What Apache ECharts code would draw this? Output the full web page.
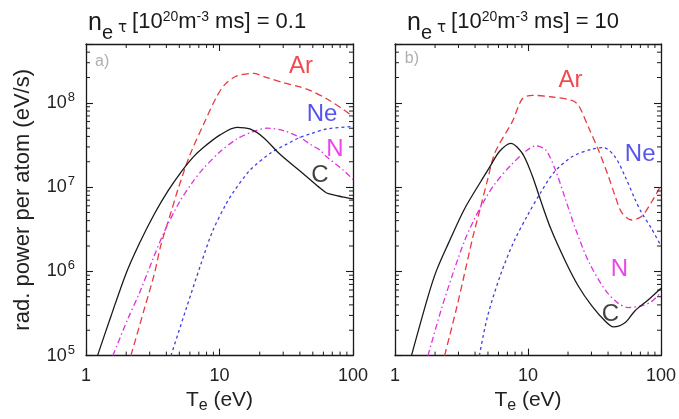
<!DOCTYPE html>
<html>
<head>
<meta charset="utf-8">
<script src="https://cdn.jsdelivr.net/npm/echarts@6/dist/echarts.min.js"></script>
<style>
  html, body { margin: 0; padding: 0; background: #fff; }
  #chart { width: 679px; height: 419px; }
</style>
</head>
<body>
<div id="chart"></div>
<script>
// Radiated power per atom versus electron temperature for C, N, Ne, Ar
// at two values of n_e * tau (left: 0.1, right: 10).

const panelValues = ['0.1', '10'];
const panelTags = ['a)', 'b)'];
const xTickLabels = ['1', '10', '100'];
const yTickExponents = [5, 6, 7, 8];

// ---- n_e tau = 0.1  [T_e (eV), P (eV/s)] ----
const carbonA = [
  [1.22, 1.0e5], [1.54, 2.95e5], [1.99, 9.33e5], [2.51, 2.14e6], [3.25, 4.79e6],
  [4.09, 8.91e6], [5.15, 1.51e7], [6.3, 2.24e7], [7.57, 2.95e7], [10.1, 4.17e7],
  [13.5, 5.13e7], [16.9, 4.90e7], [21.3, 3.89e7], [28.4, 2.45e7], [40.1, 1.55e7],
  [47.6, 1.23e7], [56.6, 9.77e6], [63.5, 8.51e6], [75.5, 7.94e6], [84.8, 7.59e6],
  [100, 7.24e6]
];
const nitrogenA = [
  [1.59, 1.0e5], [2.05, 2.69e5], [2.51, 5.50e5], [3.16, 1.38e6], [3.86, 2.95e6],
  [5.0, 6.61e6], [6.3, 1.15e7], [7.57, 1.66e7], [10.1, 2.63e7], [13.5, 3.72e7],
  [17.9, 4.57e7], [22.6, 5.01e7], [30.1, 4.68e7], [40.1, 3.89e7], [47.6, 3.24e7],
  [56.6, 2.75e7], [63.5, 2.29e7], [84.8, 1.585e7], [100, 1.23e7]
];
const neonA = [
  [4.33, 1.0e5], [5.61, 3.55e5], [7.27, 1.23e6], [8.89, 3.02e6], [11.2, 6.31e6],
  [12.7, 8.71e6], [16.9, 1.585e7], [23.9, 2.51e7], [31.9, 3.24e7], [40.1, 3.89e7],
  [47.6, 4.27e7], [63.5, 4.90e7], [100, 5.25e7]
];
const argonA = [
  [2.17, 1.0e5], [2.73, 3.55e5], [3.25, 9.33e5], [3.65, 2.09e6], [4.33, 5.01e6],
  [4.9, 9.55e6], [6.0, 2.40e7], [7.57, 5.50e7], [9.5, 1.175e8], [11.0, 1.66e8],
  [13.5, 2.09e8], [17.9, 2.24e8], [22.6, 2.0e8], [30.1, 1.74e8], [40.1, 1.55e8],
  [47.6, 1.41e8], [63.5, 1.12e8], [84.8, 8.32e7], [100, 6.92e7]
];

// ---- n_e tau = 10 ----
const carbonB = [
  [1.33, 1.0e5], [1.77, 5.01e5], [2.05, 1.02e6], [2.50, 2.09e6], [3.33, 5.50e6],
  [4.43, 1.175e7], [5.12, 1.70e7], [6.08, 2.63e7], [7.43, 3.31e7], [9.07, 2.51e7],
  [10.8, 1.35e7], [12.1, 7.94e6], [14.8, 3.24e6], [19.1, 1.32e6], [24.0, 6.61e5],
  [30.2, 3.89e5], [38.0, 2.57e5], [43.9, 2.19e5], [53.6, 2.45e5], [63.6, 3.39e5],
  [80, 4.57e5], [100, 6.31e5]
];
const nitrogenB = [
  [1.77, 1.0e5], [2.23, 3.55e5], [2.72, 9.33e5], [3.33, 2.29e6], [3.95, 4.17e6],
  [4.69, 6.92e6], [5.58, 1.07e7], [7.43, 1.82e7], [9.88, 2.75e7], [11.4, 3.09e7],
  [13.6, 2.75e7], [16.1, 1.585e7], [19.1, 7.24e6], [22.7, 3.24e6], [28.5, 1.32e6],
  [38, 6.03e5], [47.8, 4.17e5], [56.7, 3.72e5], [71.3, 3.89e5], [84.7, 4.37e5],
  [100, 5.62e5]
];
const neonB = [
  [4.31, 1.0e5], [4.97, 2.95e5], [6.25, 9.33e5], [7.87, 2.29e6], [9.88, 4.57e6],
  [12.4, 8.51e6], [15.6, 1.48e7], [21.4, 2.29e7], [30.2, 2.82e7], [36.9, 2.95e7],
  [45.1, 2.29e7], [53.6, 1.35e7], [63.6, 7.24e6], [71.3, 5.01e6], [84.7, 3.24e6],
  [100, 2.0e6]
];
const argonB = [
  [2.36, 1.0e5], [2.89, 3.55e5], [3.33, 9.33e5], [3.84, 2.51e6], [4.43, 6.03e6],
  [4.97, 1.23e7], [5.65, 2.57e7], [7.64, 6.03e7], [9.07, 1.12e8], [10.8, 1.23e8],
  [15.2, 1.175e8], [21.4, 1.07e8], [24.0, 9.33e7], [28.5, 5.13e7], [33.9, 2.75e7],
  [40.2, 1.35e7], [45.1, 7.94e6], [50.6, 5.01e6], [60, 4.07e6], [71.3, 4.47e6],
  [84.7, 6.61e6], [100, 1.05e7]
];

// Species name anchors [T_e, P, name]
const speciesLabelsA = [[40.8, 2.7e8, 'Ar'], [58.6, 7.4e7, 'Ne'], [73.3, 2.8e7, 'N'], [56.6, 1.38e7, 'C']];
const speciesLabelsB = [[20.9, 1.86e8, 'Ar'], [69.7, 2.45e7, 'Ne'], [48.6, 1.07e6, 'N'], [41.6, 3.08e5, 'C']];
const tagAnchors = [[1.32, 3.1e8], [1.34, 3.4e8]];

const FONT = '"Liberation Sans", Arial, Helvetica, sans-serif';
const GREEK_FONT = '"DejaVu Sans", sans-serif';
const INK = '#1a1a1a';
const X_MIN = 1, X_MAX = 100, Y_MIN = 1e5, Y_MAX = 5e8;

const speciesStyle = {
  C:  { color: '#1a1a1a', type: 'solid', label: '#111111' },
  N:  { color: '#e030e0', type: [6, 3, 1.5, 3], label: '#e616e6' },
  Ne: { color: '#4040e0', type: [3, 3], label: '#2a2ae6' },
  Ar: { color: '#e83a40', type: [7, 4], label: '#ec1c24' }
};

// minor tick positions (2..9 within each decade)
const minorTicks = [];
for (let e = 0; e < 2; e++) {
  for (let m = 2; m <= 9; m++) minorTicks.push([m * Math.pow(10, e), 1e6, 0]);
}
for (let e = 5; e <= 8; e++) {
  for (let m = 2; m <= 9; m++) {
    const v = m * Math.pow(10, e);
    if (v < Y_MAX) minorTicks.push([2, v, 1]);
  }
}

function renderMinorTick(params, api) {
  const cs = params.coordSys;
  const p = api.coord([api.value(0), api.value(1)]);
  const L = 4;
  const st = { stroke: INK, lineWidth: 1 };
  if (api.value(2) === 0) {
    const b = cs.y + cs.height;
    return { type: 'group', children: [
      { type: 'line', shape: { x1: p[0], y1: b, x2: p[0], y2: b - L }, style: st },
      { type: 'line', shape: { x1: p[0], y1: cs.y, x2: p[0], y2: cs.y + L }, style: st }
    ]};
  }
  const r = cs.x + cs.width;
  return { type: 'group', children: [
    { type: 'line', shape: { x1: cs.x, y1: p[1], x2: cs.x + L, y2: p[1] }, style: st },
    { type: 'line', shape: { x1: r, y1: p[1], x2: r - L, y2: p[1] }, style: st }
  ]};
}

function isPow10(v) {
  const l = Math.log10(v);
  return Math.abs(l - Math.round(l)) < 1e-6;
}

const axisLineStyle = { show: true, onZero: false, lineStyle: { color: INK, width: 1.3 } };
const majorTick = { show: true, inside: true, length: 7, lineStyle: { color: INK, width: 1.1 } };

function xAxisFor(gi, pos) {
  const bottom = pos === 'bottom';
  return {
    type: 'log', logBase: 10, min: X_MIN, max: X_MAX, gridIndex: gi, position: pos,
    axisLine: axisLineStyle, axisTick: majorTick, splitLine: { show: false }, minorTick: { show: false },
    axisLabel: bottom ? {
      show: true, margin: 11, color: '#222', fontFamily: FONT, fontSize: 18,
      formatter: v => {
        const i = Math.round(Math.log10(v));
        return isPow10(v) && xTickLabels[i] !== undefined ? xTickLabels[i] : '';
      }
    } : { show: false },
    name: bottom ? '{a|T}{b|e}{a| (eV)}' : '',
    nameLocation: 'middle', nameGap: 29,
    nameTextStyle: {
      rich: {
        a: { fontFamily: FONT, fontSize: 21, color: '#222' },
        b: { fontFamily: FONT, fontSize: 16, color: '#222', padding: [12, 0, 0, 0] }
      }
    }
  };
}

function yAxisFor(gi, pos, withLabels) {
  return {
    type: 'log', logBase: 10, min: Y_MIN, max: Y_MAX, gridIndex: gi, position: pos,
    axisLine: axisLineStyle, axisTick: majorTick, splitLine: { show: false }, minorTick: { show: false },
    axisLabel: withLabels ? {
      show: true, margin: 11, color: '#222', fontFamily: FONT,
      formatter: v => {
        if (!isPow10(v)) return '';
        const e = Math.round(Math.log10(v));
        return yTickExponents.includes(e) ? '{a|10}{b|' + e + '}' : '';
      },
      rich: {
        a: { fontFamily: FONT, fontSize: 18, color: '#222' },
        b: { fontFamily: FONT, fontSize: 13, color: '#222', padding: [0, 0, 11, 1] }
      }
    } : { show: false },
    name: withLabels ? 'rad. power per atom (eV/s)' : '',
    nameLocation: 'middle', nameRotate: 90, nameGap: 52,
    nameTextStyle: { fontFamily: FONT, fontSize: 22, color: '#222' }
  };
}

function curve(data, species, gi) {
  const s = speciesStyle[species];
  return {
    type: 'line', name: species, xAxisIndex: 2 * gi, yAxisIndex: 2 * gi,
    data: data, showSymbol: false, symbol: 'none', smooth: 0.3, clip: true,
    lineStyle: { color: s.color, width: 1.3, type: s.type }, z: 3, silent: true
  };
}

function labelSeries(items, gi) {
  return {
    type: 'scatter', xAxisIndex: 2 * gi, yAxisIndex: 2 * gi, silent: true,
    symbolSize: 1, itemStyle: { color: 'rgba(0,0,0,0)' }, z: 6,
    data: items.map(d => ({
      value: [d[0], d[1]],
      label: {
        show: true, position: 'inside', formatter: d[2],
        color: speciesStyle[d[2]].label, fontFamily: FONT, fontSize: 24
      }
    }))
  };
}

function tagSeries(gi) {
  return {
    type: 'scatter', xAxisIndex: 2 * gi, yAxisIndex: 2 * gi, silent: true,
    symbolSize: 1, itemStyle: { color: 'rgba(0,0,0,0)' }, z: 6,
    data: [{
      value: tagAnchors[gi],
      label: { show: true, position: 'inside', formatter: panelTags[gi], color: '#9a9a9a', fontFamily: FONT, fontSize: 16 }
    }]
  };
}

function minorTickSeries(gi) {
  return {
    type: 'custom', xAxisIndex: 2 * gi, yAxisIndex: 2 * gi, silent: true, z: 4,
    renderItem: renderMinorTick, data: minorTicks
  };
}

// Panel heading "n_e τ [10^20 m^-3 ms] = value", set piece by piece on a shared baseline.
// dy shifts a piece relative to the baseline (positive = lower).
const measureCtx = document.createElement('canvas').getContext('2d');
function headingGraphics(startX, baseY, value) {
  const pieces = [
    { text: 'n', size: 25, dy: 2.5 },
    { text: 'e', size: 20, dy: 11 },
    { text: 'τ', size: 15, dy: 4, padL: 5, padR: 5, family: GREEK_FONT },
    { text: '[10', size: 22, dy: 0 },
    { text: '20', size: 14, dy: -8 },
    { text: 'm', size: 22, dy: 0 },
    { text: '-3', size: 14, dy: -8 },
    { text: ' ms] = ' + value, size: 22, dy: 0 }
  ];
  const out = [];
  let x = startX;
  for (const p of pieces) {
    x += p.padL || 0;
    const font = p.size + 'px ' + (p.family || FONT);
    measureCtx.font = font;
    const w = measureCtx.measureText(p.text).width;
    out.push({
      type: 'text', x: x, y: baseY + p.dy - 0.3465 * p.size, silent: true,
      style: { text: p.text, font: font, fill: '#1a1a1a', align: 'left', verticalAlign: 'middle' }
    });
    x += w + (p.padR || 0);
  }
  return out;
}

const chart = echarts.init(document.getElementById('chart'), null, { renderer: 'canvas' });
chart.setOption({
  animation: false,
  backgroundColor: '#ffffff',
  graphic: headingGraphics(88, 29.5, panelValues[0]).concat(headingGraphics(407, 29.5, panelValues[1])),
  grid: [
    { left: 86, top: 44, width: 267, height: 320 },
    { left: 395, top: 44, width: 268, height: 320 }
  ],
  xAxis: [xAxisFor(0, 'bottom'), xAxisFor(0, 'top'), xAxisFor(1, 'bottom'), xAxisFor(1, 'top')],
  yAxis: [yAxisFor(0, 'left', true), yAxisFor(0, 'right', false), yAxisFor(1, 'left', false), yAxisFor(1, 'right', false)],
  series: [
    minorTickSeries(0), minorTickSeries(1),
    curve(argonA, 'Ar', 0), curve(neonA, 'Ne', 0), curve(nitrogenA, 'N', 0), curve(carbonA, 'C', 0),
    curve(argonB, 'Ar', 1), curve(neonB, 'Ne', 1), curve(nitrogenB, 'N', 1), curve(carbonB, 'C', 1),
    labelSeries(speciesLabelsA, 0), labelSeries(speciesLabelsB, 1),
    tagSeries(0), tagSeries(1)
  ]
});
</script>
</body>
</html>
